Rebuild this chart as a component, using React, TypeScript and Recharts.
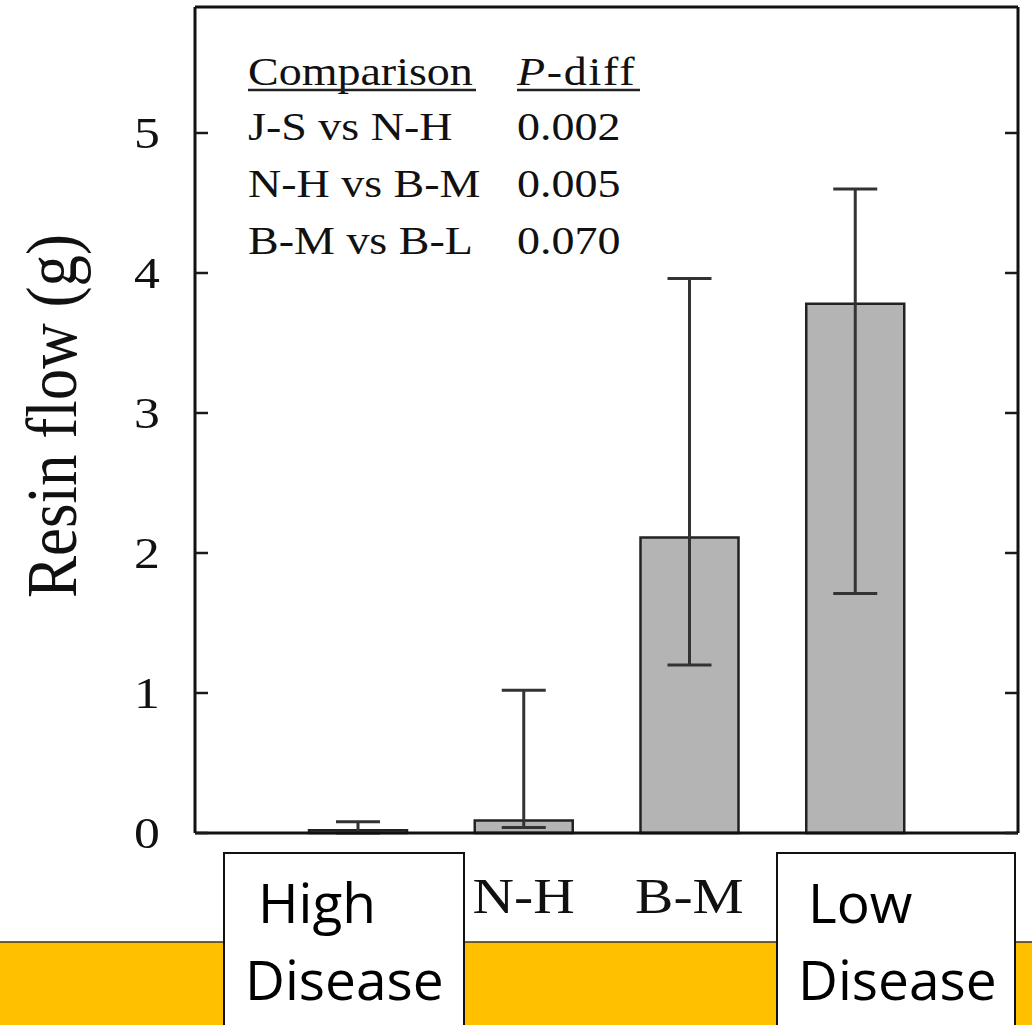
import { BarChart, Bar, XAxis, YAxis, ErrorBar, ReferenceLine } from "recharts"

const categories = ["J-S", "N-H", "B-M", "B-L"]
const resinFlow = [0.02, 0.09, 2.11, 3.78]
const errLower = [0.02, 0.05, 0.91, 2.07]
const errUpper = [0.06, 0.93, 1.85, 0.82]
const yTicks = [0, 1, 2, 3, 4, 5]
// these two labels sit under the "High Disease" / "Low Disease" boxes
const coveredLabels = ["J-S", "B-L"]

const comparisons = ["J-S vs N-H", "N-H vs B-M", "B-M vs B-L"]
const pDiffs = ["0.002", "0.005", "0.070"]

const data = categories.map((c, i) => ({
  group: c,
  flow: resinFlow[i],
  err: [errLower[i], errUpper[i]],
}))

const CHART_W = 1032
const CHART_H = 1025
const RIGHT_AXIS_W = 14
const PLOT_RIGHT = CHART_W - RIGHT_AXIS_W

const SERIF = "'Liberation Serif', 'Times New Roman', serif"
const SANS = "'Open Sans', 'Noto Sans', sans-serif"
const STRETCH = 1.15
const TICK_LEN = 13

// inward tick marks on both sides of the frame + the left label
function FrameTick(props: any) {
  const { x, y, payload } = props
  return (
    <g>
      <path d={`M${x},${y}H${x + TICK_LEN}`} stroke="#1a1a1a" strokeWidth={2.5} fill="none" />
      <path d={`M${PLOT_RIGHT - TICK_LEN},${y}H${PLOT_RIGHT}`} stroke="#1a1a1a" strokeWidth={2.5} fill="none" />
      <g transform={`translate(${x - 35},${y}) scale(${STRETCH},1)`}>
        <text x={0} y={0} dy="0.34em" textAnchor="end" fontFamily={SERIF} fontSize={45} fill="#111">
          {payload.value}
        </text>
      </g>
    </g>
  )
}

function XTick(props: any) {
  const { x, payload } = props
  if (coveredLabels.includes(payload.value)) return <g />
  return (
    <g transform={`translate(${x},913) scale(${STRETCH},1)`}>
      <text x={0} y={0} textAnchor="middle" fontFamily={SERIF} fontSize={50} fill="#111">
        {payload.value}
      </text>
    </g>
  )
}

export default function App() {
  return (
    <div style={{ position: "absolute", left: 0, top: 0, width: CHART_W, height: CHART_H, background: "#fff" }}>
      <BarChart
        width={CHART_W}
        height={CHART_H}
        data={data}
        margin={{ top: 7, right: 0, bottom: 0, left: 0 }}
        barCategoryGap={0}
      >
        <XAxis
          dataKey="group"
          height={192}
          padding={{ left: 80, right: 80 }}
          axisLine={{ stroke: "#111", strokeWidth: 3 }}
          tickLine={false}
          tick={<XTick />}
          interval={0}
        />
        <YAxis
          yAxisId="left"
          width={195}
          domain={[0, 5.9]}
          ticks={yTicks}
          interval={0}
          axisLine={{ stroke: "#111", strokeWidth: 3 }}
          tickLine={false}
          tickSize={0}
          tickMargin={0}
          tick={<FrameTick />}
        />
        <YAxis
          yAxisId="right"
          orientation="right"
          width={RIGHT_AXIS_W}
          domain={[0, 5.9]}
          axisLine={{ stroke: "#111", strokeWidth: 3 }}
          tickLine={false}
          tick={false}
        />
        <ReferenceLine yAxisId="left" y={5.9} stroke="#111" strokeWidth={3} />
        <Bar
          yAxisId="left"
          dataKey="flow"
          fill="#b4b4b4"
          stroke="#222"
          strokeWidth={2.5}
          barSize={98}
          isAnimationActive={false}
        >
          <ErrorBar dataKey="err" width={22} stroke="#333" strokeWidth={3} direction="y" />
        </Bar>
      </BarChart>

      <svg
        width={CHART_W}
        height={CHART_H}
        style={{ position: "absolute", left: 0, top: 0, pointerEvents: "none" }}
      >
        {/* y axis title */}
        <g transform={`translate(76,416) scale(${STRETCH},1) rotate(-90)`}>
          <text x={0} y={0} textAnchor="middle" fontFamily={SERIF} fontSize={63} fill="#111">
            Resin flow (g)
          </text>
        </g>

        {/* comparison table */}
        <g transform={`translate(248,0) scale(${STRETCH},1)`}>
          <text x={0} y={85} fontFamily={SERIF} fontSize={40} fill="#111">
            Comparison
          </text>
          {comparisons.map((c, i) => (
            <text key={c} x={0} y={140 + i * 57} fontFamily={SERIF} fontSize={40} fill="#111">
              {c}
            </text>
          ))}
        </g>
        <line x1={248} x2={476} y1={90} y2={90} stroke="#222" strokeWidth={2.5} />
        <g transform={`translate(517,0) scale(${STRETCH},1)`}>
          <text x={0} y={85} fontFamily={SERIF} fontSize={40} fill="#111" letterSpacing={1.5}>
            <tspan fontStyle="italic">P</tspan>-diff
          </text>
          {pDiffs.map((p, i) => (
            <text key={p} x={0} y={140 + i * 57} fontFamily={SERIF} fontSize={40} fill="#111">
              {p}
            </text>
          ))}
        </g>
        <line x1={517} x2={640} y1={90} y2={90} stroke="#222" strokeWidth={2.5} />

        {/* yellow band */}
        <rect x={0} y={942} width={CHART_W} height={83} fill="#ffc000" />
        <line x1={0} x2={CHART_W} y1={942} y2={942} stroke="#333" strokeWidth={1.5} />

        {/* disease boxes */}
        <rect x={224} y={853} width={240} height={180} fill="#fff" stroke="#111" strokeWidth={2} />
        <text x={258} y={923} fontFamily={SANS} fontSize={55} fill="#000">High</text>
        <text x={245} y={1000} fontFamily={SANS} fontSize={55} fill="#000">Disease</text>

        <rect x={777} y={853} width={238} height={180} fill="#fff" stroke="#111" strokeWidth={2} />
        <text x={808} y={923} fontFamily={SANS} fontSize={55} fill="#000">Low</text>
        <text x={798} y={1000} fontFamily={SANS} fontSize={55} fill="#000">Disease</text>
      </svg>
    </div>
  )
}
